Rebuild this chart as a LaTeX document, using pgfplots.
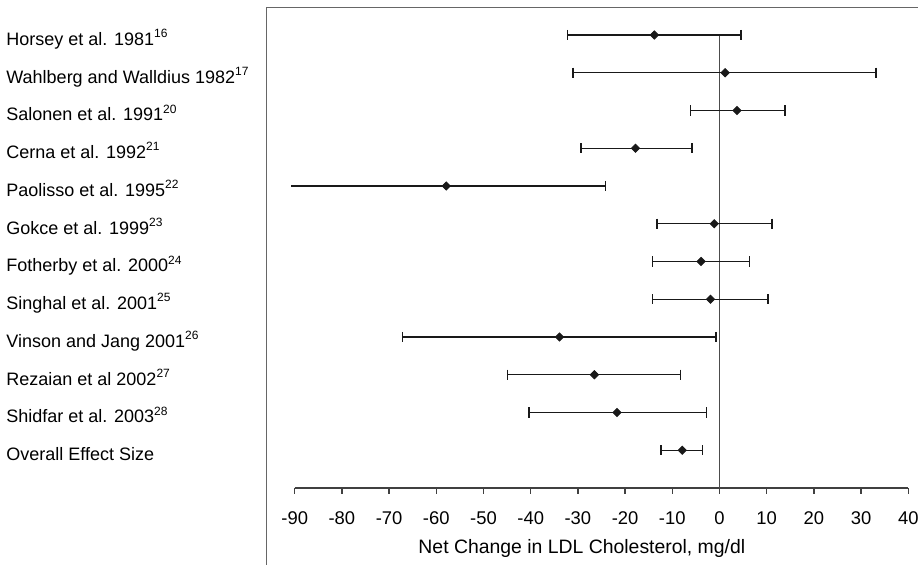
\documentclass[border=0pt]{standalone}
\usepackage{pgfplots}
\pgfplotsset{compat=1.18}
\usepackage{pgfplotstable}
\usepackage{fontspec}
\setmainfont{Liberation Sans}

% row: 12 = top study, 1 = overall effect
\pgfplotstableread{
y  est    lo     hi
12 -13.8  -32.2  4.6
11 1.2    -31.0  33.2
10 3.7    -6.2   13.9
9  -17.8  -29.3  -5.8
8  -57.9  -90.7  -24.2
7  -1.1   -13.2  11.1
6  -3.9   -14.2  6.3
5  -1.9   -14.2  10.3
4  -33.9  -67.2  -0.7
3  -26.5  -44.9  -8.2
2  -21.7  -40.4  -2.7
1  -7.9   -12.4  -3.6
}\ldldata

\begin{document}
\begin{tikzpicture}
\path[use as bounding box] (0,0) rectangle (459pt,-282.5pt);

% frame (only left and top edges are visible)
\begin{axis}[
  at={(133.35pt,-282.5pt)}, anchor=south west,
  width=325.65pt, height=278.85pt, scale only axis,
  xmin=0, xmax=1, ymin=0, ymax=1,
  axis x line*=top, axis y line*=left,
  axis line style={-, draw=black!60, line width=0.7pt},
  xtick=\empty, ytick=\empty,
]
\end{axis}

\begin{axis}[
  at={(147.35pt,-244pt)}, anchor=south west,
  width=306.8pt, height=245.375pt, scale only axis,
  xmin=-90, xmax=40, ymin=0, ymax=13,
  clip=false,
  axis lines*=left,
  x axis line style={-, draw=black!75, line width=0.65pt},
  y axis line style={draw=none},
  xtick={-90,-80,...,40},
  tick align=outside, major tick length=3pt,
  x tick style={draw=black!75, line width=0.65pt},
  y tick style={draw=none},
  /pgf/number format/assume math mode=true,
  xticklabel style={font=\fontsize{9.2}{11}\selectfont, anchor=base, yshift=-15.5pt},
  ytick={1,...,12},
  yticklabels={
    Overall Effect Size,
    Shidfar et al. 2003\textsuperscript{28},
    Rezaian et al 2002\textsuperscript{27},
    Vinson and Jang 2001\textsuperscript{26},
    Singhal et al. 2001\textsuperscript{25},
    Fotherby et al. 2000\textsuperscript{24},
    Gokce et al. 1999\textsuperscript{23},
    Paolisso et al. 1995\textsuperscript{22},
    Cerna et al. 1992\textsuperscript{21},
    Salonen et al. 1991\textsuperscript{20},
    Wahlberg and Walldius 1982\textsuperscript{17},
    Horsey et al. 1981\textsuperscript{16}},
  yticklabel style={font=\fontsize{9}{11}\selectfont, anchor=base west,
    inner sep=0pt, xshift=-141.35pt, yshift=-5.2pt},
  xlabel={Net Change in LDL Cholesterol, mg/dl},
  xlabel style={font=\fontsize{9.7}{12}\selectfont, at={(axis description cs:0.468,0)},
    anchor=base, yshift=-33pt},
]
% line of no effect
\addplot[draw=black!70, line width=0.7pt, mark=none] coordinates {(0,0) (0,12)};

% confidence intervals
\addplot[draw=none, mark=none,
  error bars/.cd, x dir=both, x explicit, error mark=none,
  error bar style={black!90, line width=0.7pt}]
  table[x=est, y=y,
    x error plus expr=\thisrow{hi}-\thisrow{est},
    x error minus expr=\thisrow{est}-\thisrow{lo}] {\ldldata};

% caps
\addplot[only marks, mark=|, mark size=2.6pt, black!90,
  mark options={line width=0.7pt}, restrict x to domain=-90:50]
  table[x=lo, y=y] {\ldldata};
\addplot[only marks, mark=|, mark size=2.6pt, black!90,
  mark options={line width=0.7pt}]
  table[x=hi, y=y] {\ldldata};

% point estimates
\addplot[only marks, mark=square*, mark size=1.45pt, black!90,
  mark options={rotate=45}]
  table[x=est, y=y] {\ldldata};
\end{axis}
\end{tikzpicture}
\end{document}
